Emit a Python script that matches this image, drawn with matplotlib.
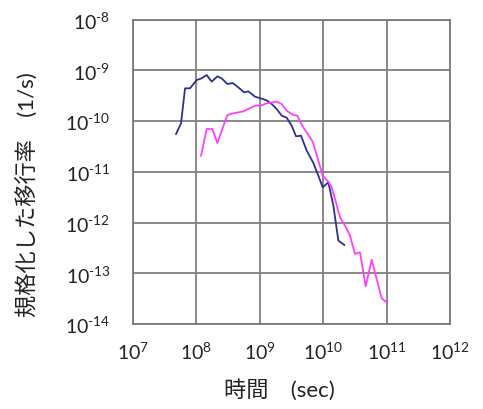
import matplotlib
matplotlib.use("Agg")
import matplotlib.pyplot as plt
import numpy as np
from matplotlib.ticker import FixedLocator, FuncFormatter, NullLocator

plt.rcParams['font.family'] = ['Lato', 'Noto Sans CJK JP', 'DejaVu Sans']

# log10 of time (sec) and normalized transfer rate (1/s)
navy_logt = [7.683, 7.762, 7.825, 7.903, 8.008, 8.087, 8.166, 8.245, 8.334, 8.402,
             8.492, 8.576, 8.665, 8.754, 8.822, 8.928, 9.017, 9.111, 9.190, 9.269,
             9.348, 9.426, 9.505, 9.574, 9.652, 9.742, 9.847, 9.925, 9.994, 10.083,
             10.162, 10.241, 10.335]
navy_logr = [-10.254, -10.043, -9.353, -9.353, -9.189, -9.156, -9.091, -9.222, -9.117, -9.156,
             -9.268, -9.248, -9.334, -9.432, -9.413, -9.518, -9.551, -9.590, -9.662, -9.761,
             -9.892, -9.932, -10.089, -10.300, -10.286, -10.582, -10.825, -11.075, -11.305, -11.206,
             -11.666, -12.356, -12.442]

pink_logt = [8.077, 8.166, 8.255, 8.334, 8.492, 8.586, 8.744, 8.928, 9.017, 9.111,
             9.269, 9.348, 9.426, 9.532, 9.595, 9.663, 9.742, 9.836, 9.899, 9.994,
             10.083, 10.135, 10.214, 10.267, 10.346, 10.424, 10.503, 10.582, 10.671, 10.766,
             10.844, 10.923, 11.002]
pink_logr = [-10.681, -10.155, -10.155, -10.431, -9.879, -9.846, -9.807, -9.695, -9.695, -9.649,
             -9.616, -9.662, -9.794, -9.879, -9.892, -10.076, -10.221, -10.405, -10.668, -11.075,
             -11.193, -11.305, -11.653, -11.896, -12.060, -12.258, -12.619, -12.586, -13.256, -12.731,
             -13.112, -13.493, -13.572]

x_exps = [7, 8, 9, 10, 11, 12]
y_exps = [-14, -13, -12, -11, -10, -9, -8]

fig = plt.figure(figsize=(4.83, 4.10), dpi=100)
ax = fig.add_axes([0.2747, 0.2073, 0.657, 0.7422])

ax.plot(10.0 ** np.array(navy_logt), 10.0 ** np.array(navy_logr), color='#2E3192', lw=1.3)
ax.plot(10.0 ** np.array(pink_logt), 10.0 ** np.array(pink_logr), color='#FF40FF', lw=1.3)

ax.set_xscale('log')
ax.set_yscale('log')
ax.set_xlim(10.0 ** x_exps[0], 10.0 ** x_exps[-1])
ax.set_ylim(10.0 ** y_exps[0], 10.0 ** y_exps[-1])

ax.xaxis.set_major_locator(FixedLocator([10.0 ** e for e in x_exps]))
ax.yaxis.set_major_locator(FixedLocator([10.0 ** e for e in y_exps]))
ax.xaxis.set_minor_locator(NullLocator())
ax.yaxis.set_minor_locator(NullLocator())


def power_label(v, pos):
    e = int(round(np.log10(v)))
    exp = str(abs(e))
    if e < 0:
        exp = '\u2010' + exp  # short hyphen instead of a wide minus sign
    return r'$\mathregular{10^{%s}}$' % exp


fmt = FuncFormatter(power_label)
ax.xaxis.set_major_formatter(fmt)
ax.yaxis.set_major_formatter(fmt)

ax.tick_params(axis='both', length=0, labelsize=14, colors='#222222')
ax.tick_params(axis='y', pad=16)
ax.tick_params(axis='x', pad=12)

ax.grid(True, which='major', color='#808080', lw=1.3)
for s in ax.spines.values():
    s.set_color('#7a7a7a')
    s.set_linewidth(1.3)

fig.text(28 / 483, 1 - 195 / 410, '規格化した移行率\u3000(1/s)', rotation=90,
         ha='center', va='center', fontsize=16, color='#222222')
fig.text(279 / 483, 1 - 390 / 410, '時間\u3000(sec)', ha='center', va='center',
         fontsize=16, color='#222222')

fig.savefig('out.png', dpi=100)
